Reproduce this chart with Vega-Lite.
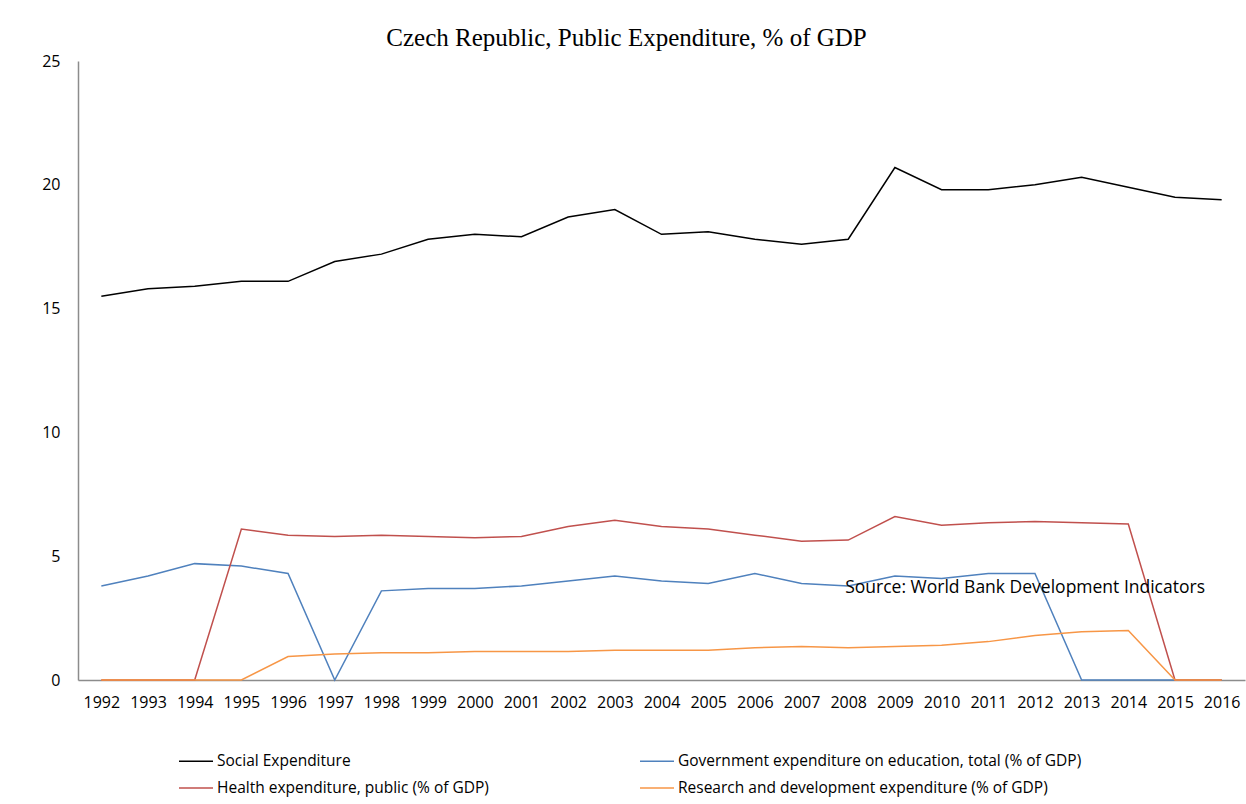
{
  "$schema": "https://vega.github.io/schema/vega-lite/v6.json",
  "autosize": {"type": "none"},
  "padding": {"left": 78, "top": 61, "right": 1, "bottom": 124},
  "width": 1167,
  "height": 619,
  "background": "white",
  "title": {
    "text": "Czech Republic, Public Expenditure, % of GDP",
    "font": "Liberation Serif",
    "fontSize": 25,
    "fontWeight": "normal",
    "color": "black",
    "anchor": "middle",
    "dx": -35,
    "offset": 2
  },
  "config": {
    "view": {"stroke": null},
    "axis": {
      "labelFont": "Open Sans",
      "labelFontSize": 16,
      "labelColor": "black",
      "grid": false,
      "ticks": false,
      "domainColor": "#8c8c8c",
      "domainWidth": 1.5,
      "title": null
    },
    "legend": {
      "labelFont": "Open Sans",
      "labelFontSize": 15.5,
      "labelColor": "black"
    }
  },
  "datasets": {
    "series": [
      {"year": "1992", "series": "Social Expenditure", "value": 15.5},
      {"year": "1993", "series": "Social Expenditure", "value": 15.8},
      {"year": "1994", "series": "Social Expenditure", "value": 15.9},
      {"year": "1995", "series": "Social Expenditure", "value": 16.1},
      {"year": "1996", "series": "Social Expenditure", "value": 16.1},
      {"year": "1997", "series": "Social Expenditure", "value": 16.9},
      {"year": "1998", "series": "Social Expenditure", "value": 17.2},
      {"year": "1999", "series": "Social Expenditure", "value": 17.8},
      {"year": "2000", "series": "Social Expenditure", "value": 18.0},
      {"year": "2001", "series": "Social Expenditure", "value": 17.9},
      {"year": "2002", "series": "Social Expenditure", "value": 18.7},
      {"year": "2003", "series": "Social Expenditure", "value": 19.0},
      {"year": "2004", "series": "Social Expenditure", "value": 18.0},
      {"year": "2005", "series": "Social Expenditure", "value": 18.1},
      {"year": "2006", "series": "Social Expenditure", "value": 17.8},
      {"year": "2007", "series": "Social Expenditure", "value": 17.6},
      {"year": "2008", "series": "Social Expenditure", "value": 17.8},
      {"year": "2009", "series": "Social Expenditure", "value": 20.7},
      {"year": "2010", "series": "Social Expenditure", "value": 19.8},
      {"year": "2011", "series": "Social Expenditure", "value": 19.8},
      {"year": "2012", "series": "Social Expenditure", "value": 20.0},
      {"year": "2013", "series": "Social Expenditure", "value": 20.3},
      {"year": "2014", "series": "Social Expenditure", "value": 19.9},
      {"year": "2015", "series": "Social Expenditure", "value": 19.5},
      {"year": "2016", "series": "Social Expenditure", "value": 19.4},

      {"year": "1992", "series": "Government expenditure on education, total (% of GDP)", "value": 3.8},
      {"year": "1993", "series": "Government expenditure on education, total (% of GDP)", "value": 4.2},
      {"year": "1994", "series": "Government expenditure on education, total (% of GDP)", "value": 4.7},
      {"year": "1995", "series": "Government expenditure on education, total (% of GDP)", "value": 4.6},
      {"year": "1996", "series": "Government expenditure on education, total (% of GDP)", "value": 4.3},
      {"year": "1997", "series": "Government expenditure on education, total (% of GDP)", "value": 0},
      {"year": "1998", "series": "Government expenditure on education, total (% of GDP)", "value": 3.6},
      {"year": "1999", "series": "Government expenditure on education, total (% of GDP)", "value": 3.7},
      {"year": "2000", "series": "Government expenditure on education, total (% of GDP)", "value": 3.7},
      {"year": "2001", "series": "Government expenditure on education, total (% of GDP)", "value": 3.8},
      {"year": "2002", "series": "Government expenditure on education, total (% of GDP)", "value": 4.0},
      {"year": "2003", "series": "Government expenditure on education, total (% of GDP)", "value": 4.2},
      {"year": "2004", "series": "Government expenditure on education, total (% of GDP)", "value": 4.0},
      {"year": "2005", "series": "Government expenditure on education, total (% of GDP)", "value": 3.9},
      {"year": "2006", "series": "Government expenditure on education, total (% of GDP)", "value": 4.3},
      {"year": "2007", "series": "Government expenditure on education, total (% of GDP)", "value": 3.9},
      {"year": "2008", "series": "Government expenditure on education, total (% of GDP)", "value": 3.8},
      {"year": "2009", "series": "Government expenditure on education, total (% of GDP)", "value": 4.2},
      {"year": "2010", "series": "Government expenditure on education, total (% of GDP)", "value": 4.1},
      {"year": "2011", "series": "Government expenditure on education, total (% of GDP)", "value": 4.3},
      {"year": "2012", "series": "Government expenditure on education, total (% of GDP)", "value": 4.3},
      {"year": "2013", "series": "Government expenditure on education, total (% of GDP)", "value": 0},
      {"year": "2014", "series": "Government expenditure on education, total (% of GDP)", "value": 0},
      {"year": "2015", "series": "Government expenditure on education, total (% of GDP)", "value": 0},
      {"year": "2016", "series": "Government expenditure on education, total (% of GDP)", "value": 0},

      {"year": "1992", "series": "Health expenditure, public (% of GDP)", "value": 0},
      {"year": "1993", "series": "Health expenditure, public (% of GDP)", "value": 0},
      {"year": "1994", "series": "Health expenditure, public (% of GDP)", "value": 0},
      {"year": "1995", "series": "Health expenditure, public (% of GDP)", "value": 6.1},
      {"year": "1996", "series": "Health expenditure, public (% of GDP)", "value": 5.85},
      {"year": "1997", "series": "Health expenditure, public (% of GDP)", "value": 5.8},
      {"year": "1998", "series": "Health expenditure, public (% of GDP)", "value": 5.85},
      {"year": "1999", "series": "Health expenditure, public (% of GDP)", "value": 5.8},
      {"year": "2000", "series": "Health expenditure, public (% of GDP)", "value": 5.75},
      {"year": "2001", "series": "Health expenditure, public (% of GDP)", "value": 5.8},
      {"year": "2002", "series": "Health expenditure, public (% of GDP)", "value": 6.2},
      {"year": "2003", "series": "Health expenditure, public (% of GDP)", "value": 6.45},
      {"year": "2004", "series": "Health expenditure, public (% of GDP)", "value": 6.2},
      {"year": "2005", "series": "Health expenditure, public (% of GDP)", "value": 6.1},
      {"year": "2006", "series": "Health expenditure, public (% of GDP)", "value": 5.85},
      {"year": "2007", "series": "Health expenditure, public (% of GDP)", "value": 5.6},
      {"year": "2008", "series": "Health expenditure, public (% of GDP)", "value": 5.65},
      {"year": "2009", "series": "Health expenditure, public (% of GDP)", "value": 6.6},
      {"year": "2010", "series": "Health expenditure, public (% of GDP)", "value": 6.25},
      {"year": "2011", "series": "Health expenditure, public (% of GDP)", "value": 6.35},
      {"year": "2012", "series": "Health expenditure, public (% of GDP)", "value": 6.4},
      {"year": "2013", "series": "Health expenditure, public (% of GDP)", "value": 6.35},
      {"year": "2014", "series": "Health expenditure, public (% of GDP)", "value": 6.3},
      {"year": "2015", "series": "Health expenditure, public (% of GDP)", "value": 0},
      {"year": "2016", "series": "Health expenditure, public (% of GDP)", "value": 0},

      {"year": "1992", "series": "Research and development expenditure (% of GDP)", "value": 0},
      {"year": "1993", "series": "Research and development expenditure (% of GDP)", "value": 0},
      {"year": "1994", "series": "Research and development expenditure (% of GDP)", "value": 0},
      {"year": "1995", "series": "Research and development expenditure (% of GDP)", "value": 0},
      {"year": "1996", "series": "Research and development expenditure (% of GDP)", "value": 0.95},
      {"year": "1997", "series": "Research and development expenditure (% of GDP)", "value": 1.05},
      {"year": "1998", "series": "Research and development expenditure (% of GDP)", "value": 1.1},
      {"year": "1999", "series": "Research and development expenditure (% of GDP)", "value": 1.1},
      {"year": "2000", "series": "Research and development expenditure (% of GDP)", "value": 1.15},
      {"year": "2001", "series": "Research and development expenditure (% of GDP)", "value": 1.15},
      {"year": "2002", "series": "Research and development expenditure (% of GDP)", "value": 1.15},
      {"year": "2003", "series": "Research and development expenditure (% of GDP)", "value": 1.2},
      {"year": "2004", "series": "Research and development expenditure (% of GDP)", "value": 1.2},
      {"year": "2005", "series": "Research and development expenditure (% of GDP)", "value": 1.2},
      {"year": "2006", "series": "Research and development expenditure (% of GDP)", "value": 1.3},
      {"year": "2007", "series": "Research and development expenditure (% of GDP)", "value": 1.35},
      {"year": "2008", "series": "Research and development expenditure (% of GDP)", "value": 1.3},
      {"year": "2009", "series": "Research and development expenditure (% of GDP)", "value": 1.35},
      {"year": "2010", "series": "Research and development expenditure (% of GDP)", "value": 1.4},
      {"year": "2011", "series": "Research and development expenditure (% of GDP)", "value": 1.55},
      {"year": "2012", "series": "Research and development expenditure (% of GDP)", "value": 1.8},
      {"year": "2013", "series": "Research and development expenditure (% of GDP)", "value": 1.95},
      {"year": "2014", "series": "Research and development expenditure (% of GDP)", "value": 2.0},
      {"year": "2015", "series": "Research and development expenditure (% of GDP)", "value": 0},
      {"year": "2016", "series": "Research and development expenditure (% of GDP)", "value": 0}
    ],
    "note": [
      {"year": "2008", "value": 3.72, "label": "Source: World Bank Development Indicators"}
    ]
  },
  "layer": [
    {
      "data": {"name": "series"},
      "mark": {"type": "line", "strokeWidth": 1.5},
      "encoding": {
        "x": {
          "field": "year",
          "type": "ordinal",
          "scale": {"type": "point", "padding": 0.5},
          "axis": {"labelAngle": 0, "labelPadding": 14}
        },
        "y": {
          "field": "value",
          "type": "quantitative",
          "scale": {"domain": [0, 25], "nice": false},
          "axis": {"values": [0, 5, 10, 15, 20, 25], "labelPadding": 18}
        },
        "color": {
          "field": "series",
          "type": "nominal",
          "scale": {
            "domain": [
              "Social Expenditure",
              "Government expenditure on education, total (% of GDP)",
              "Health expenditure, public (% of GDP)",
              "Research and development expenditure (% of GDP)"
            ],
            "range": ["#000000", "#4F81BD", "#C0504D", "#F79646"]
          },
          "legend": {
            "title": null,
            "orient": "none",
            "legendX": 100,
            "legendY": 682,
            "direction": "horizontal",
            "columns": 2,
            "columnPadding": 148,
            "rowPadding": -6,
            "symbolType": "stroke",
            "symbolSize": 1156,
            "symbolStrokeWidth": 1.5,
            "labelOffset": 3,
            "labelLimit": 600
          }
        }
      }
    },
    {
      "data": {"name": "note"},
      "mark": {"type": "text", "align": "left", "baseline": "middle", "font": "Open Sans", "fontSize": 17.5, "color": "black", "dx": -3},
      "encoding": {
        "x": {"field": "year", "type": "ordinal"},
        "y": {"field": "value", "type": "quantitative"},
        "text": {"field": "label"}
      }
    }
  ]
}
